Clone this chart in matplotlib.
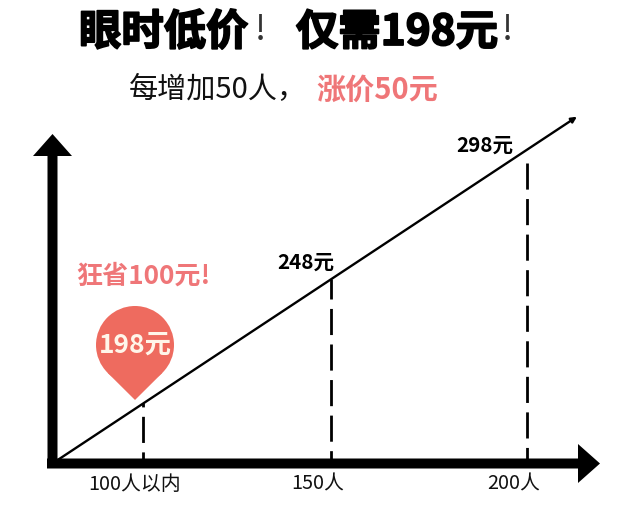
import matplotlib
matplotlib.use('Agg')
import matplotlib.pyplot as plt
import matplotlib.patheffects as pe
from matplotlib.patches import Circle, FancyArrow, Polygon

plt.rcParams['font.family'] = ['Noto Sans CJK SC', 'DejaVu Sans']

people = [100, 149, 200]
prices = [198, 248, 298]
drop_tops = [198.4, 247.5, 293.5]
people_labels = ['100人以内', '150人', '200人']
price_labels = ['198元', '248元', '298元']

W, H = 640, 514
RED = '#ee6b5f'
PINK = '#ef7678'

fig = plt.figure(figsize=(W / 100, H / 100), dpi=100)

# overlay in pixel coords for the decoration and the text
deco = fig.add_axes([0, 0, 1, 1])
deco.set_xlim(0, W)
deco.set_ylim(H, 0)
deco.axis('off')

# data axes, limits chosen so the trend line runs from the corner to the arrow tip
ax = fig.add_axes([0, 0, 1, 1])
ax.patch.set_alpha(0)
ax.set_xlim(100 - 143 / 3.84, 100 + (W - 143) / 3.84)
ax.set_ylim(198 - (H - 404) / 2.52, 198 + 404 / 2.52)
ax.axis('off')

# big axis arrows
deco.add_patch(FancyArrow(47, 463.5, 531, 0, width=10, head_width=39, head_length=22,
                          length_includes_head=False, color='black', lw=0))
deco.add_patch(FancyArrow(52.5, 468, 0, -312, width=10, head_width=39, head_length=22,
                          length_includes_head=False, color='black', lw=0))

# trend line
line_x = [78, 213]
line_y = [176, 312]
ax.annotate('', xy=(line_x[1], line_y[1]), xytext=(line_x[0], line_y[0]),
            arrowprops=dict(arrowstyle='-|>', color='black', lw=1.7, mutation_scale=8,
                            shrinkA=0, shrinkB=0))

# dashed drop lines, drawn top down so the dash phase matches
for p, top, off in zip(people, drop_tops, [8, 2.2, 0]):
    ax.plot([p, p], [top, line_y[0]], color='black', lw=2,
            linestyle=(off, (9.4, 3.4)), zorder=1)

# x labels
for x, s in zip([135, 318, 514], people_labels):
    deco.text(x, 484, s, ha='center', va='center', fontsize=14.3, color='#111111')

# price labels
deco.text(485, 145, price_labels[2], ha='center', va='center', fontsize=14.8, fontweight='bold')
deco.text(306, 262, price_labels[1], ha='center', va='center', fontsize=14.8, fontweight='bold')

# pin
deco.add_patch(Circle((135, 345), 39, facecolor=RED, edgecolor='none', zorder=3))
deco.add_patch(Polygon([(107.5, 372.7), (162.5, 372.7), (135, 400)], closed=True,
                       facecolor=RED, edgecolor='none', zorder=3))
deco.text(135, 345, price_labels[0], ha='center', va='center', fontsize=19,
          fontweight='bold', color='#fff6ea', zorder=4)
deco.text(143, 276, '狂省100元!', ha='center', va='center', fontsize=18.8,
          fontweight='bold', color=PINK)

# headings
heavy = [pe.withStroke(linewidth=1.3, foreground='black')]
deco.text(79, 33, '眼时低价', ha='left', va='center', fontsize=30.5, fontweight='bold',
          path_effects=heavy)
deco.text(260, 31, '!', ha='center', va='center', fontsize=25, color='#333333')
deco.text(296, 33, '仅需198元', ha='left', va='center', fontsize=30.5, fontweight='bold',
          path_effects=heavy)
deco.text(507, 31, '!', ha='center', va='center', fontsize=25, color='#333333')
deco.text(129, 90, '每增加50人，', ha='left', va='center', fontsize=21, color='#111111')
deco.text(316, 90, '涨价50元', ha='left', va='center', fontsize=21, fontweight='bold', color=PINK)

fig.savefig('out.png', dpi=100)
